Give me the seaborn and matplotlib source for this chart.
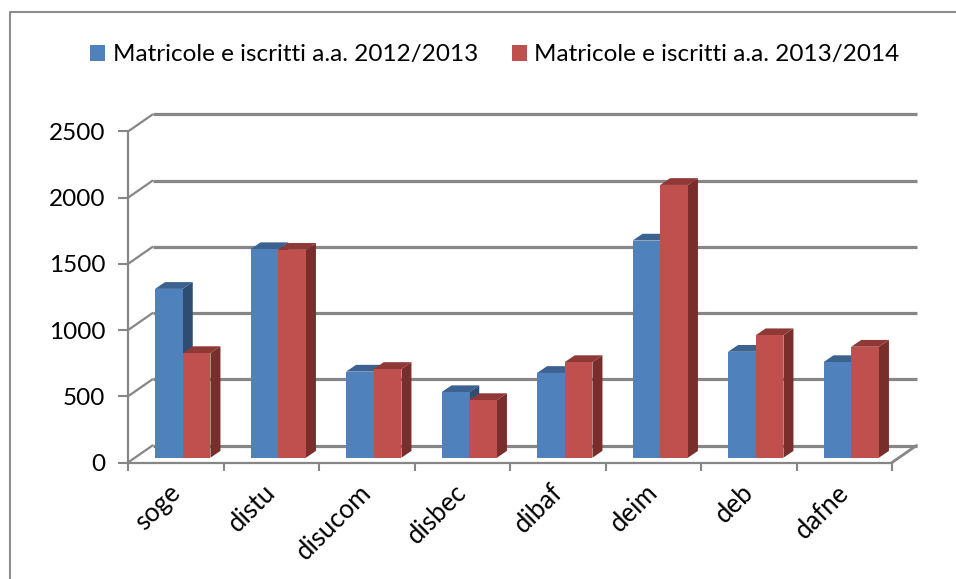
import matplotlib
matplotlib.use("Agg")
import matplotlib.pyplot as plt
from matplotlib.colors import to_hex
from matplotlib.lines import Line2D
from matplotlib.patches import Polygon, Rectangle
from matplotlib.transforms import ScaledTranslation
import pandas as pd
import seaborn as sns

categories = ["soge", "distu", "disucom", "disbec", "dibaf", "deim", "deb", "dafne"]
series_2012 = [1275, 1575, 650, 495, 640, 1640, 800, 722]
series_2013 = [790, 1570, 670, 435, 722, 2060, 925, 838]
name_2012 = "Matricole e iscritti a.a. 2012/2013"
name_2013 = "Matricole e iscritti a.a. 2013/2014"
y_ticks = [0, 500, 1000, 1500, 2000, 2500]

W, H = 956, 579
GREY = "#868686"
FRONT = {name_2012: "#4f81bd", name_2013: "#c0504d"}
TOP = {"#4f81bd": "#3c6390", "#c0504d": "#8f3836"}
SIDE = {"#4f81bd": "#2e4d73", "#c0504d": "#7a2e2c"}

sns.set_theme(style="white")
plt.rcParams["font.family"] = ["Lato", "DejaVu Sans"]
fig = plt.figure(figsize=(W / 100, H / 100), dpi=100, facecolor="white")

def make_axes(left, right, y0, y2500):
    return fig.add_axes([left / W, 1 - y0 / H, (right - left) / W, (y0 - y2500) / H])

X0, X1, Y0, Y1 = 128, 892, 462.5, 131.5
DEPTH_X, DEPTH_Y = 24.5, 17
BAR_DX, BAR_DY = 7, 4.8

ax_wall = make_axes(X0 + DEPTH_X, X1 + DEPTH_X, Y0 - DEPTH_Y, Y1 - DEPTH_Y)
ax = make_axes(X0, X1, Y0, Y1)
ax_bars = make_axes(X0 + BAR_DX, X1 + BAR_DX, Y0 - BAR_DY, Y1 - BAR_DY)
for a in (ax_wall, ax, ax_bars):
    a.set_xlim(-0.5, 7.5)
    a.set_ylim(0, 2500)
    a.patch.set_visible(False)

# back wall gridlines
ax_wall.axis("off")
for v in y_ticks:
    ax_wall.plot([-0.5, 7.5], [v, v], color=GREY, lw=2.3, clip_on=False, solid_capstyle="butt")

# front axes with real ticks
sns.despine(ax=ax, top=True, right=True)
for s in ("left", "bottom"):
    ax.spines[s].set_color(GREY)
    ax.spines[s].set_linewidth(1.6)
ax.set_yticks(y_ticks)
ax.set_yticklabels([str(v) for v in y_ticks], fontsize=17.5, color="black")
ax.set_xticks([i - 0.5 for i in range(9)])
ax.set_xticklabels([])
ax.set_xticks(range(8), labels=categories, minor=True)
ax.tick_params(axis="y", length=7, width=1.5, color=GREY, pad=9.5, left=True)
ax.tick_params(axis="x", which="major", length=6, width=1.5, color=GREY, bottom=True)
ax.tick_params(axis="x", which="minor", length=0, pad=12.5, labelsize=18.5, labelcolor="black")
shift = ScaledTranslation(-8 / 100, 0, fig.dpi_scale_trans)
for lab in ax.get_xticklabels(minor=True):
    lab.set_rotation(45)
    lab.set_rotation_mode("anchor")
    lab.set_ha("right")
    lab.set_va("top")
    lab.set_transform(lab.get_transform() + shift)

# floor / wall connectors
unit_x = 8 / (X1 - X0)
unit_y = 2500 / (Y0 - Y1)
for v in y_ticks:
    ax.plot([-0.5, -0.5 + DEPTH_X * unit_x], [v, v + DEPTH_Y * unit_y],
            color=GREY, lw=1.6, clip_on=False)
ax.plot([7.5, 7.5 + DEPTH_X * unit_x], [0, DEPTH_Y * unit_y], color=GREY, lw=2, clip_on=False)
ax.set_xlabel("")
ax.set_ylabel("")

# bars
df = pd.DataFrame({
    "cat": categories * 2,
    "value": series_2012 + series_2013,
    "series": [name_2012] * len(categories) + [name_2013] * len(categories),
})
sns.barplot(data=df, x="cat", y="value", hue="series", hue_order=[name_2012, name_2013],
            order=categories, palette=FRONT, width=0.58, dodge=True, gap=0, saturation=1,
            errorbar=None, ax=ax_bars, legend=False, linewidth=0)
ax_bars.set_xlim(-0.5, 7.5)
ax_bars.set_ylim(0, 2500)
ax_bars.axis("off")

side_x = 10 * unit_x
side_y = 6.8 * unit_y
for i, p in enumerate(sorted(list(ax_bars.patches), key=lambda r: r.get_x())):
    x, w, h = p.get_x(), p.get_width(), p.get_height()
    front = to_hex(p.get_facecolor())
    p.set_zorder(3 + 3 * i)
    ax_bars.add_patch(Polygon([(x, h), (x + side_x, h + side_y), (x + w + side_x, h + side_y), (x + w, h)],
                              closed=True, fc=TOP[front], ec="none", zorder=2 + 3 * i, clip_on=False))
    ax_bars.add_patch(Polygon([(x + w, 0), (x + w + side_x, side_y), (x + w + side_x, h + side_y), (x + w, h)],
                              closed=True, fc=SIDE[front], ec="none", zorder=2 + 3 * i, clip_on=False))

# legend
handles = [Rectangle((0, 0), 1, 1, fc=FRONT[n], ec="none") for n in (name_2012, name_2013)]
fig.legend(handles, [name_2012, name_2013], ncol=2, frameon=False, fontsize=17.5,
           loc="center", bbox_to_anchor=(495 / W, 1 - 55 / H), handlelength=0.62, handleheight=0.62,
           handletextpad=0.3, columnspacing=1.4, labelcolor="black")

# chart frame: only the left and top edges fall inside the picture
fig.add_artist(Line2D([9.5 / W, 9.5 / W, 1], [0, 1 - 12 / H, 1 - 12 / H],
                      transform=fig.transFigure, color="#8C8C8C", lw=1.5))
fig.savefig("out.png", dpi=100)
